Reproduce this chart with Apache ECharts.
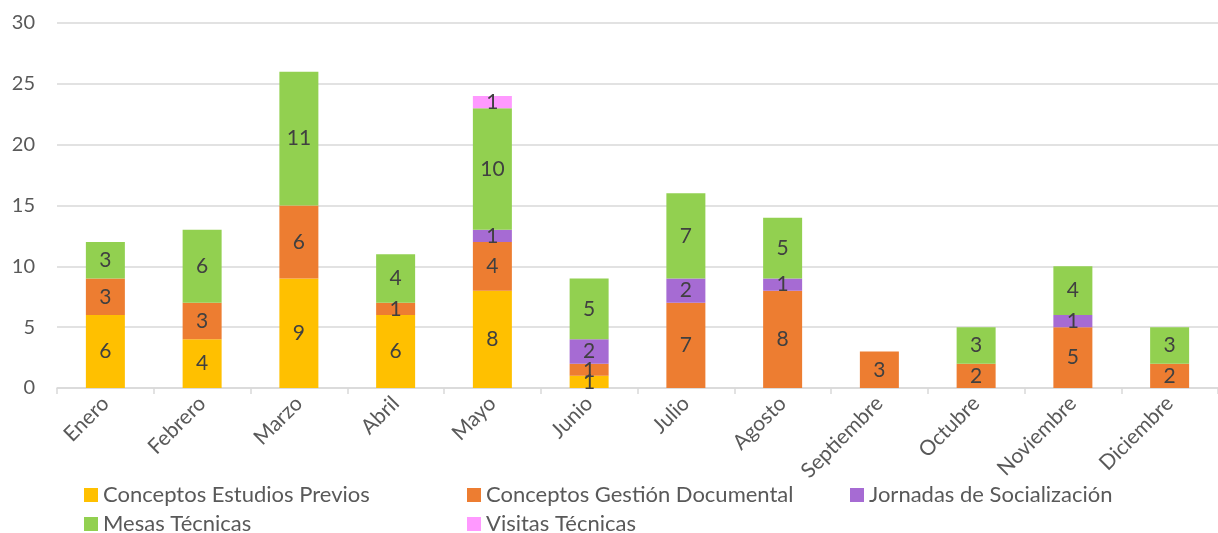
<!DOCTYPE html>
<html>
<head>
<meta charset="utf-8">
<script src="https://cdn.jsdelivr.net/npm/echarts@6/dist/echarts.min.js"></script>
<style>
html,body{margin:0;padding:0;background:#fff;}
#chart{width:1218px;height:533px;}
</style>
</head>
<body>
<div id="chart"></div>
<script>
const categories = ['Enero','Febrero','Marzo','Abril','Mayo','Junio','Julio','Agosto','Septiembre','Octubre','Noviembre','Diciembre'];
const estudiosPrevios = [6, 4, 9, 6, 8, 1, null, null, null, null, null, null];
const gestionDocumental = [3, 3, 6, 1, 4, 1, 7, 8, 3, 2, 5, 2];
const jornadas = [null, null, null, null, 1, 2, 2, 1, null, null, 1, null];
const mesasTecnicas = [3, 6, 11, 4, 10, 5, 7, 5, null, 3, 4, 3];
const visitasTecnicas = [null, null, null, null, 1, null, null, null, null, null, null, null];
const seriesNames = ['Conceptos Estudios Previos','Conceptos Gestión Documental','Jornadas de Socialización','Mesas Técnicas','Visitas Técnicas'];
const yTicks = [0, 5, 10, 15, 20, 25, 30];

const FONT = 'Lato';
const colors = ['#FFC000','#ED7D31','#A66BD3','#92D050','#FF99FF'];
const seriesData = [estudiosPrevios, gestionDocumental, jornadas, mesasTecnicas, visitasTecnicas];

const chart = echarts.init(document.getElementById('chart'), null, {renderer:'canvas'});

const legendPos = [
  {left: 84, top: 484},
  {left: 467, top: 484},
  {left: 850, top: 484},
  {left: 84, top: 513},
  {left: 467, top: 513}
];

const option = {
  animation: false,
  color: colors,
  grid: {left: 57, right: -9, top: 23, bottom: 145, containLabel: false},
  legend: seriesNames.map((n, i) => ({
    data: [n],
    left: legendPos[i].left,
    top: legendPos[i].top,
    padding: 0,
    icon: 'rect',
    itemWidth: 14,
    itemHeight: 14,
    itemGap: 0,
    textStyle: {fontFamily: FONT, fontSize: 22, color: '#595959'},
    selectedMode: false
  })),
  xAxis: {
    type: 'category',
    data: categories,
    axisLine: {lineStyle: {color: '#D9D9D9', width: 1.5}},
    axisTick: {show: true, alignWithLabel: false, length: 6, lineStyle: {color: '#D9D9D9', width: 1.5}},
    axisLabel: {rotate: 45, fontFamily: FONT, fontSize: 21, color: '#595959', margin: 12, interval: 0}
  },
  yAxis: {
    type: 'value',
    min: yTicks[0],
    max: yTicks[yTicks.length - 1],
    interval: 5,
    axisLine: {show: false},
    axisTick: {show: false},
    splitLine: {lineStyle: {color: '#D9D9D9', width: 1.5}},
    axisLabel: {fontFamily: FONT, fontSize: 20, color: '#595959', margin: 22}
  },
  series: seriesNames.map((n, i) => ({
    name: n,
    type: 'bar',
    stack: 'total',
    barWidth: 39,
    data: seriesData[i],
    itemStyle: {color: colors[i]},
    label: {
      show: true,
      position: 'inside',
      fontFamily: FONT,
      fontSize: 21,
      color: '#404040',
      formatter: p => (p.value == null ? '' : String(p.value))
    }
  }))
};
chart.setOption(option);
</script>
</body>
</html>
